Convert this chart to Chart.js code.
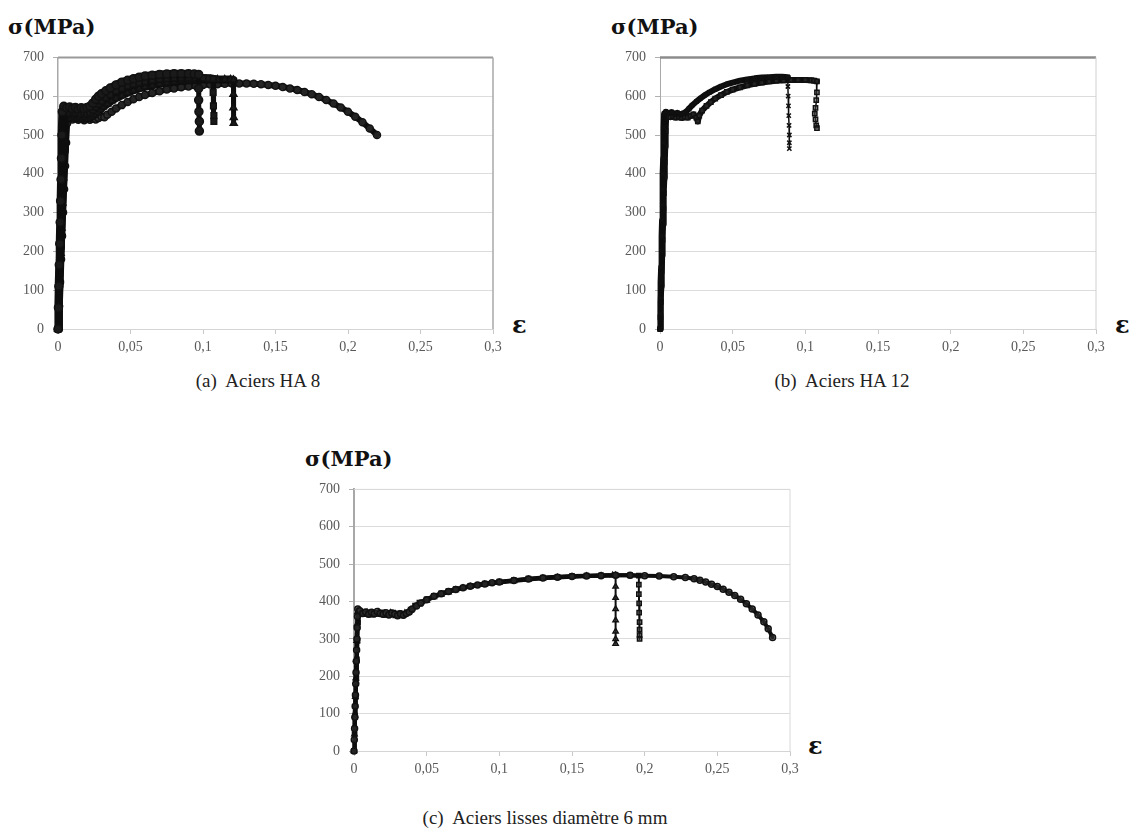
<!DOCTYPE html>
<html>
<head>
<meta charset="utf-8">
<script src="https://cdn.jsdelivr.net/npm/chart.js@4.4.1/dist/chart.umd.min.js"></script>
<style>
  html, body { margin:0; padding:0; background:#fff; }
  body { width:1131px; height:829px; position:relative; overflow:hidden; font-family:"Liberation Serif","Times New Roman",serif; }
  canvas { position:absolute; }
  .ylab { position:absolute; font-family:"DejaVu Serif",serif; font-weight:bold; font-size:21px; line-height:24px; color:#111; white-space:nowrap; }
  .eps { position:absolute; font-family:"DejaVu Serif",serif; font-weight:bold; font-size:24px; line-height:26px; color:#111; }
  .cap { position:absolute; font-size:19px; line-height:20px; color:#222; white-space:pre; transform:translateX(-50%); }
</style>
</head>
<body>
<div class="ylab" style="left:8px; top:15px;">σ(MPa)</div>
<div class="ylab" style="left:611px; top:15px;">σ(MPa)</div>
<div class="ylab" style="left:305px; top:447px;">σ(MPa)</div>
<div class="eps" style="left:512px; top:312px;">ε</div>
<div class="eps" style="left:1115px; top:312px;">ε</div>
<div class="eps" style="left:808px; top:733px;">ε</div>
<div class="cap" style="left:258px; top:371px;">(a)  Aciers HA 8</div>
<div class="cap" style="left:842px; top:371px;">(b)  Aciers HA 12</div>
<div class="cap" style="left:545px; top:808px;">(c)  Aciers lisses diamètre 6 mm</div>

<canvas id="chartA" width="520" height="330" style="left:0px; top:40px;"></canvas>
<canvas id="chartB" width="521" height="330" style="left:602px; top:40px;"></canvas>
<canvas id="chartC" width="521" height="320" style="left:296px; top:472px;"></canvas>

<script>
// ---------- axes ----------
const xTickValues = [0, 0.05, 0.1, 0.15, 0.2, 0.25, 0.3];
const xTickLabels = ['0', '0,05', '0,1', '0,15', '0,2', '0,25', '0,3'];
const yTickValues = [0, 100, 200, 300, 400, 500, 600, 700];
const yTickLabels = ['0', '100', '200', '300', '400', '500', '600', '700'];

// ---------- (a) Aciers HA 8 ----------
const ha8A_strain = [0,0.0003,0.0006,0.0009,0.0012,0.0015,0.0018,0.0021,0.0024,0.0027,0.003,
  0.004,0.006,0.008,0.010,0.012,0.014,0.016,0.018,0.020,0.022,0.024,0.026,0.028,0.030,0.033,0.036,0.040,0.044,0.048,0.052,0.056,0.060,0.065,0.070,0.075,0.080,0.085,0.090,0.094,0.097,
  0.097,0.097,0.0972,0.0975,0.0975];
const ha8A_stress = [0,55,110,165,220,275,330,385,440,500,560,
  574,570,572,568,571,567,570,568,571,574,582,592,600,606,614,621,629,636,641,645,649,652,654,656,657,658,658,658,657,656,
  620,590,560,535,510];

const ha8B_strain = [0,0.0005,0.001,0.0015,0.002,0.0025,0.003,0.0035,0.004,
  0.006,0.008,0.010,0.012,0.014,0.016,0.018,0.020,0.022,0.024,0.026,0.028,0.030,0.033,0.036,0.040,0.044,0.048,0.052,0.056,0.060,0.065,0.070,0.075,0.080,0.085,0.090,0.095,0.100,0.104,0.107,
  0.107,0.1072,0.1075,0.1075];
const ha8B_stress = [0,70,140,210,280,350,420,490,555,
  560,557,561,556,559,555,558,555,558,564,572,580,587,596,604,613,620,626,631,635,638,641,644,646,647,648,648,648,647,646,645,
  610,575,550,535];

const ha8C_strain = [0,0.0006,0.0012,0.0018,0.0024,0.003,0.0036,0.0042,0.0048,0.005,
  0.007,0.009,0.011,0.013,0.015,0.017,0.019,0.021,0.023,0.025,0.027,0.029,0.031,0.034,0.037,0.040,0.044,0.048,0.052,0.056,0.060,0.065,0.070,0.075,0.080,0.085,0.090,0.095,0.100,0.105,0.110,0.115,0.119,0.121,
  0.121,0.121,0.1212,0.1212];
const ha8C_stress = [0,65,130,195,260,325,390,460,530,548,
  548,544,549,543,547,542,546,543,547,552,558,565,572,580,588,595,602,609,615,620,624,628,632,635,638,640,641,642,643,643,643,643,643,642,
  605,570,545,530];

const ha8D_strain = [0,0.0007,0.0014,0.0021,0.0028,0.0035,0.0042,0.0049,0.0056,0.0063,0.0068,
  0.008,0.010,0.012,0.014,0.016,0.018,0.020,0.022,0.024,0.026,0.028,0.030,0.032,0.034,0.037,0.040,0.044,0.048,0.052,0.056,0.060,0.065,0.070,0.075,0.080,0.085,0.090,0.095,0.100,0.105,0.110,0.115,0.120,0.125,0.130,0.135,0.140,0.145,0.150,0.155,0.160,0.165,0.170,0.175,0.180,0.185,0.190,0.195,0.200,0.205,0.210,0.215,0.220];
const ha8D_stress = [0,60,120,180,240,300,360,420,480,530,545,
  543,540,544,539,542,538,541,539,542,540,544,548,546,552,560,568,577,585,592,598,603,608,613,617,620,623,625,627,629,630,631,632,633,633,633,632,631,629,627,624,620,616,611,605,598,590,581,571,560,547,533,517,500];

// ---------- (b) Aciers HA 12 ----------
const ha12A_strain = [0,0.0002,0.0004,0.0006,0.0008,0.001,0.0012,0.0014,0.0016,0.0018,0.002,0.0022,0.0024,0.0026,0.0028,
  0.004,0.006,0.008,0.010,0.012,0.014,0.016,0.018,0.020,0.022,0.025,0.028,0.031,0.034,0.038,0.042,0.046,0.050,0.055,0.060,0.065,0.070,0.075,0.080,0.084,0.088,
  0.088,0.0882,0.0884,0.0886,0.0888,0.089,0.089,0.089];
const ha12A_stress = [0,40,80,120,160,200,240,280,320,360,400,440,480,520,555,
  560,556,559,554,557,553,556,560,568,576,586,595,603,610,618,625,631,635,640,643,646,648,649,650,650,649,
  625,600,575,550,525,500,480,465];

const ha12B_strain = [0,0.0003,0.0006,0.0009,0.0012,0.0015,0.0018,0.0021,0.0024,0.0027,0.003,0.0033,0.0036,0.0039,0.0042,
  0.005,0.007,0.009,0.011,0.013,0.015,0.017,0.019,0.021,0.023,0.025,0.026,0.027,0.029,0.032,0.035,0.038,0.042,0.046,0.050,0.055,0.060,0.065,0.070,0.075,0.080,0.085,0.090,0.095,0.100,0.104,0.106,0.108,
  0.108,0.1075,0.107,0.1065,0.107,0.1075,0.108];
const ha12B_stress = [0,30,70,110,150,190,230,270,310,350,390,430,470,510,545,
  550,546,549,545,548,544,547,545,549,553,545,535,550,563,575,585,594,603,611,617,623,628,632,635,638,640,641,642,642,642,641,640,638,
  610,590,570,555,540,525,518];

// ---------- (c) Aciers lisses diamètre 6 mm ----------
const lisA_strain = [0,0.0002,0.0004,0.0006,0.0008,0.001,0.0012,0.0014,0.0016,0.0018,0.002,0.0022,0.0024,0.0026,
  0.004,0.006,0.008,0.010,0.012,0.014,0.016,0.018,0.020,0.022,0.024,0.026,0.028,0.030,0.032,0.034,0.036,0.038,0.040,0.043,0.046,0.050,0.055,0.060,0.065,0.070,0.075,0.080,0.085,0.090,0.095,0.100,0.110,0.120,0.130,0.140,0.150,0.160,0.170,0.180,0.190,0.200,0.210,0.220,0.228,0.234,0.238,0.242,0.246,0.250,0.254,0.258,0.262,0.266,0.270,0.274,0.278,0.282,0.285,0.288];
const lisA_stress = [0,30,60,90,120,150,180,210,240,270,300,330,360,380,
  375,368,372,366,371,367,373,368,366,370,364,369,366,362,367,363,368,372,380,388,396,405,414,421,427,432,437,441,444,447,450,452,456,460,463,465,467,468,469,470,470,469,468,466,464,461,457,452,446,440,433,425,416,406,394,380,364,346,327,304];

const lisB_strain = [0,0.0003,0.0006,0.0009,0.0012,0.0015,0.0018,0.0021,0.0024,
  0.005,0.007,0.009,0.011,0.013,0.015,0.017,0.019,0.021,0.023,0.025,0.027,0.029,0.031,0.033,0.035,0.037,0.039,0.042,0.045,0.050,0.055,0.060,0.065,0.070,0.075,0.080,0.090,0.100,0.110,0.120,0.130,0.140,0.150,0.160,0.170,0.178,0.180,
  0.180,0.180,0.180,0.180,0.180,0.180,0.180];
const lisB_stress = [0,45,95,145,195,245,295,340,372,
  370,365,371,364,369,366,372,365,368,363,370,366,361,366,364,369,370,376,386,393,403,412,419,425,431,436,440,446,451,455,459,462,464,466,468,469,470,470,
  440,410,380,350,320,300,287];

const lisC_strain = [0,0.0004,0.0008,0.0012,0.0016,0.002,0.0024,0.0028,0.003,
  0.005,0.007,0.009,0.011,0.013,0.015,0.017,0.019,0.021,0.023,0.025,0.027,0.029,0.031,0.033,0.035,0.037,0.039,0.042,0.045,0.050,0.055,0.060,0.065,0.070,0.080,0.090,0.100,0.110,0.120,0.130,0.140,0.150,0.160,0.170,0.180,0.190,0.196,
  0.196,0.196,0.1962,0.1962,0.1965,0.1965,0.1965,0.1965];
const lisC_stress = [0,45,95,145,195,245,295,345,370,
  368,372,366,370,365,369,367,371,364,368,365,370,364,368,363,367,371,378,389,397,406,415,422,428,433,442,448,453,457,461,464,466,468,469,470,470,470,469,
  445,420,395,370,345,325,310,300];

// ---------- helpers ----------
function pts(xs, ys) { return xs.map((x, i) => ({ x: x, y: ys[i] })); }

// thinner stroke for the final unloading drops (steep descent after necking)
function ds(xs, ys, style, lw, dropW, r, fill) {
  return {
    data: pts(xs, ys),
    showLine: true,
    borderColor: '#0d0d0d',
    borderWidth: lw,
    borderJoinStyle: 'round',
    borderCapStyle: 'round',
    segment: {
      borderWidth: c => (c.p0.parsed.x > 0.05 && Math.abs(c.p1.parsed.x - c.p0.parsed.x) < 0.002 && c.p1.parsed.y < c.p0.parsed.y + 20) ? dropW : lw
    },
    pointStyle: style,
    pointRadius: r,
    pointBorderWidth: 1.5,
    pointBorderColor: '#111',
    pointBackgroundColor: fill,
    clip: 8
  };
}

const framePlugin = {
  id: 'frame',
  beforeDatasetsDraw(chart, args, opts) {
    const { ctx, chartArea: { left, top, right, bottom } } = chart;
    ctx.save();
    ctx.strokeStyle = opts.topColor; ctx.lineWidth = opts.topWidth;
    ctx.beginPath(); ctx.moveTo(left, top); ctx.lineTo(right, top); ctx.stroke();
    ctx.strokeStyle = opts.rightColor; ctx.lineWidth = opts.rightWidth;
    ctx.beginPath(); ctx.moveTo(right, top); ctx.lineTo(right, bottom); ctx.stroke();
    ctx.restore();
  }
};

const tickFont = { family: '"Liberation Serif", serif', size: 14 };

function makeChart(id, datasets, frame, yBorderWidth) {
  return new Chart(document.getElementById(id), {
    type: 'scatter',
    data: { datasets: datasets },
    plugins: [framePlugin],
    options: {
      responsive: false,
      animation: false,
      events: [],
      layout: { padding: { top: 12, right: 27, bottom: 0, left: 0 } },
      plugins: { legend: { display: false }, tooltip: { enabled: false }, frame: frame },
      scales: {
        x: {
          type: 'linear', min: 0, max: 0.3,
          afterBuildTicks: s => { s.ticks = xTickValues.map(v => ({ value: v })); },
          afterFit: s => { s.height = 41; },
          ticks: { callback: (v, i) => xTickLabels[i], color: '#595959', font: tickFont, padding: 5, maxRotation: 0, autoSkip: false },
          grid: { drawOnChartArea: false, drawTicks: true, tickLength: 5, tickColor: '#c8c8c8', color: '#c8c8c8' },
          border: { color: '#d4d4d4', width: 1 }
        },
        y: {
          type: 'linear', min: 0, max: 700,
          afterBuildTicks: s => { s.ticks = yTickValues.map(v => ({ value: v })); },
          afterFit: s => { s.width = 58; },
          ticks: { callback: (v, i) => yTickLabels[i], color: '#595959', font: tickFont, padding: 9, autoSkip: false },
          grid: { color: '#dcdcdc', lineWidth: 1, drawTicks: true, tickLength: 5, tickColor: '#b0b0b0' },
          border: { color: '#a8a8a8', width: yBorderWidth }
        }
      }
    }
  });
}

makeChart('chartA', [
  ds(ha8A_strain, ha8A_stress, 'circle', 8, 5, 4, '#1a1a1a'),
  ds(ha8B_strain, ha8B_stress, 'rect', 8, 5, 4, '#1a1a1a'),
  ds(ha8C_strain, ha8C_stress, 'triangle', 8, 5, 4, '#1a1a1a'),
  ds(ha8D_strain, ha8D_stress, 'circle', 6, 5, 3.5, 'rgba(60,60,60,0.5)')
], { topColor: '#9a9a9a', topWidth: 2, rightColor: '#a8a8a8', rightWidth: 1.5 }, 1.5);

makeChart('chartB', [
  ds(ha12A_strain, ha12A_stress, 'crossRot', 6, 1.5, 3, 'rgba(60,60,60,0.5)'),
  ds(ha12B_strain, ha12B_stress, 'rect', 6, 1.5, 3, 'rgba(60,60,60,0.5)')
], { topColor: '#8c8c8c', topWidth: 2.5, rightColor: '#d0d0d0', rightWidth: 1 }, 1);

makeChart('chartC', [
  ds(lisA_strain, lisA_stress, 'circle', 4, 2, 3, 'rgba(60,60,60,0.5)'),
  ds(lisB_strain, lisB_stress, 'triangle', 4, 2, 3, 'rgba(60,60,60,0.5)'),
  ds(lisC_strain, lisC_stress, 'rect', 4, 2, 3, 'rgba(60,60,60,0.5)')
], { topColor: '#d8d8d8', topWidth: 1, rightColor: '#d8d8d8', rightWidth: 1 }, 2);
</script>
</body>
</html>
